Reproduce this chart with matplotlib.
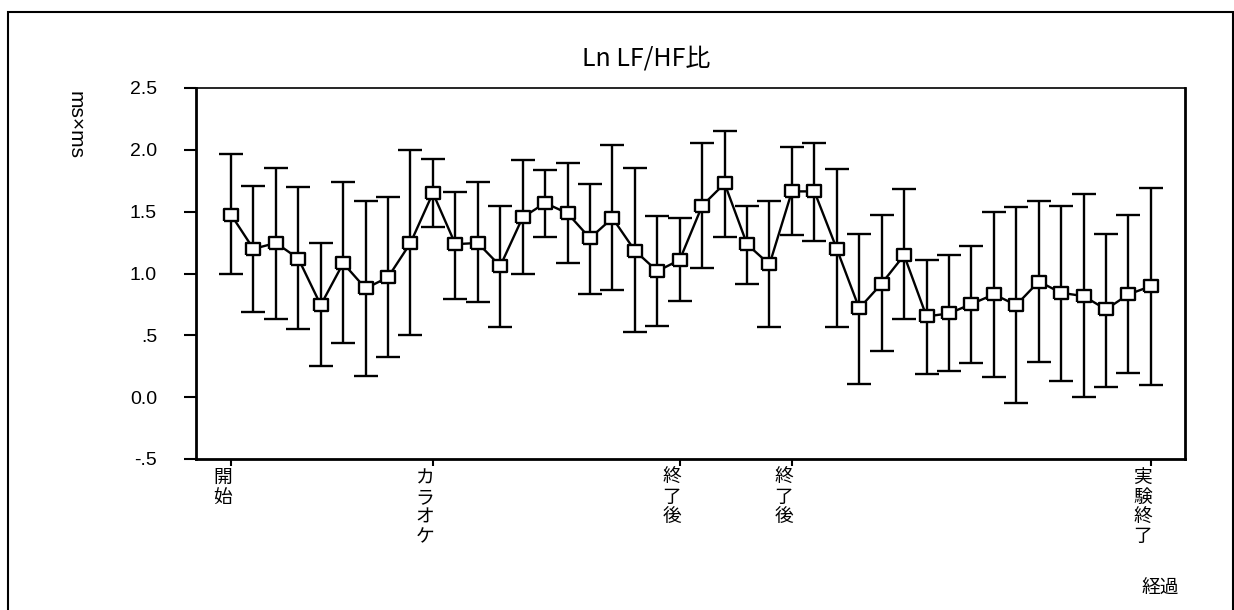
import matplotlib
matplotlib.use("Agg")
import matplotlib.pyplot as plt
import matplotlib.transforms as mtransforms
from matplotlib.patches import Rectangle

plt.rcParams['font.family'] = ['Noto Sans CJK JP', 'DejaVu Sans']

# mean and 95% CI bounds for each time step
means = [1.476, 1.199, 1.247, 1.121, 0.745, 1.083, 0.879, 0.970, 1.247, 1.651,
         1.237, 1.247, 1.060, 1.454, 1.570, 1.487, 1.285, 1.449, 1.185, 1.019,
         1.110, 1.548, 1.728, 1.237, 1.073, 1.664, 1.664, 1.199, 0.718, 0.919,
         1.148, 0.653, 0.677, 0.753, 0.831, 0.745, 0.935, 0.844, 0.817, 0.710,
         0.831, 0.898]
upper = [1.968, 1.710, 1.852, 1.699, 1.245, 1.737, 1.586, 1.616, 2.000, 1.927,
         1.661, 1.737, 1.548, 1.914, 1.839, 1.890, 1.726, 2.040, 1.852, 1.463,
         1.452, 2.056, 2.153, 1.548, 1.586, 2.019, 2.056, 1.841, 1.323, 1.473,
         1.680, 1.107, 1.148, 1.220, 1.500, 1.538, 1.586, 1.548, 1.640, 1.323,
         1.473, 1.688]
lower = [0.994, 0.691, 0.629, 0.554, 0.250, 0.438, 0.172, 0.325, 0.500, 1.374,
         0.790, 0.769, 0.565, 0.995, 1.296, 1.083, 0.831, 0.868, 0.524, 0.575,
         0.778, 1.043, 1.298, 0.919, 0.565, 1.309, 1.261, 0.565, 0.110, 0.374,
         0.632, 0.185, 0.212, 0.274, 0.164, -0.051, 0.285, 0.134, 0.000, 0.086,
         0.199, 0.099]
tick_pos = [0, 9, 20, 25, 41]
tick_labels = ['開始', 'カラオケ', '終了後', '終了後', '実験終了']
ytick_vals = [-0.5, 0.0, 0.5, 1.0, 1.5, 2.0, 2.5]
ytick_labels = ['-.5', '0.0', '.5', '1.0', '1.5', '2.0', '2.5']

x = list(range(len(means)))
yerr = [[m - lo for m, lo in zip(means, lower)], [hi - m for m, hi in zip(means, upper)]]

fig = plt.figure(figsize=(12.34, 6.10), dpi=100)
# outer frame
fig.patches.append(Rectangle((8 / 1234, -0.01), (1233 - 8) / 1234, 1 - 12 / 610 + 0.01,
                             transform=fig.transFigure, fill=False, edgecolor='black', lw=1.5))

ax = fig.add_axes([196 / 1234, 1 - 459 / 610, (1185 - 196) / 1234, (459 - 88) / 610])

rect = [(-1.3, -1), (1.3, -1), (1.3, 1), (-1.3, 1), (-1.3, -1)]
ax.errorbar(x, means, yerr=yerr, fmt='none', ecolor='black', elinewidth=1.7,
            capsize=8.5, capthick=1.7)
ax.plot(x, means, color='black', lw=1.7, marker=rect, markersize=10.5,
        markerfacecolor='white', markeredgecolor='black', markeredgewidth=1.7)

ax.set_xlim(-1.56, 42.52)
ax.set_ylim(-0.5, 2.5)
ax.set_yticks(ytick_vals)
ax.set_yticklabels(ytick_labels, family=['Liberation Sans', 'DejaVu Sans'], fontsize=14)
ax.set_xticks(tick_pos)
ax.set_xticklabels([])
# category labels stacked vertically, sitting a little left of their ticks
trans = mtransforms.blended_transform_factory(ax.transData, ax.transAxes) + \
    mtransforms.ScaledTranslation(-8 / 100, -8 / 100, fig.dpi_scale_trans)
for p, t in zip(tick_pos, tick_labels):
    ax.text(p, 0, '\n'.join(t), transform=trans, ha='center', va='top',
            fontsize=13.5, linespacing=0.92)
ax.tick_params(axis='y', length=9, width=1.5, pad=19)
ax.tick_params(axis='x', length=5, width=1.5)
for s in ['left', 'bottom', 'right']:
    ax.spines[s].set_linewidth(2)
ax.spines['top'].set_linewidth(1.2)

fig.text(646 / 1234, 1 - 58 / 610, 'Ln LF/HF比', ha='center', va='center', fontsize=18)
fig.text(75 / 1234, 1 - 125 / 610, 'ms×ms', ha='center', va='center', rotation=-90,
         fontsize=15, family=['Liberation Sans', 'DejaVu Sans'])
fig.text(1160 / 1234, 1 - 588 / 610, '経過', ha='center', va='center', fontsize=13.5)

fig.savefig('out.png', dpi=100)
